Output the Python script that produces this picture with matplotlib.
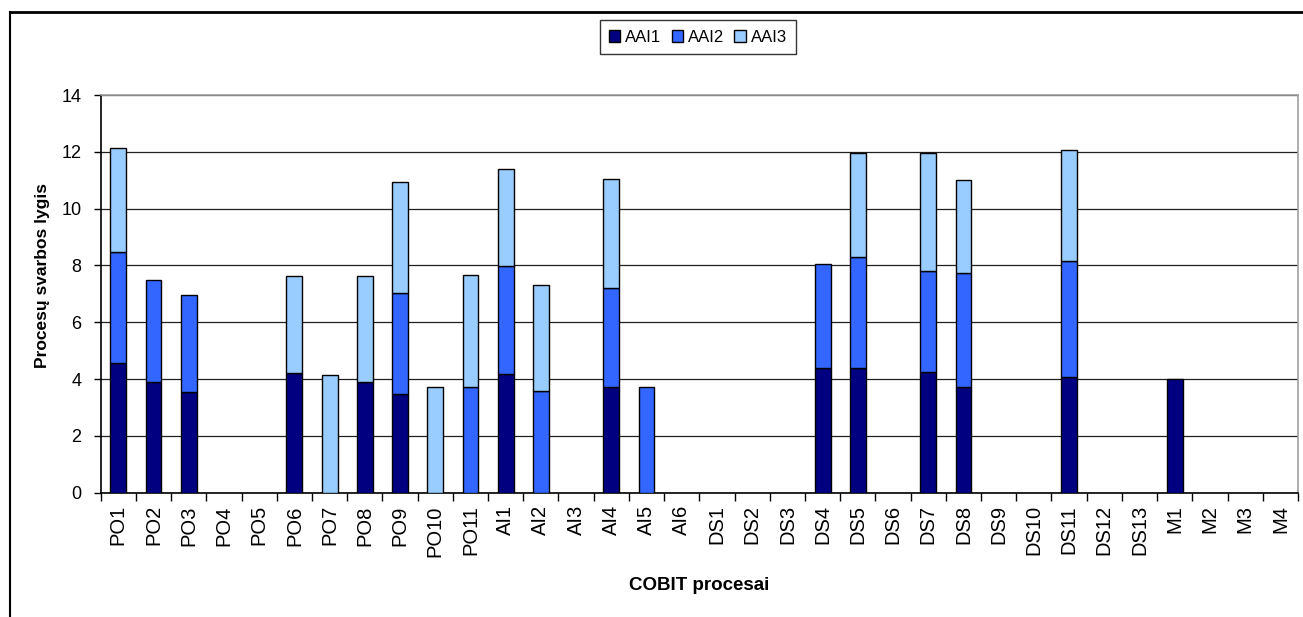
import numpy as np
import matplotlib
matplotlib.use("Agg")
import matplotlib.pyplot as plt
from matplotlib.lines import Line2D

plt.rcParams['font.family'] = ['Liberation Sans', 'DejaVu Sans']

# COBIT processes
processes = (["PO%d" % i for i in range(1, 12)] +
             ["AI%d" % i for i in range(1, 7)] +
             ["DS%d" % i for i in range(1, 14)] +
             ["M%d" % i for i in range(1, 5)])

# Importance levels per group
aai1 = [4.55, 3.91, 3.56, 0, 0, 4.20, 0, 3.91, 3.49, 0, 0,
        4.19, 0, 0, 3.73, 0, 0,
        0, 0, 0, 4.38, 4.38, 0, 4.26, 3.73, 0, 0, 4.08, 0, 0,
        4.01, 0, 0, 0]
aai2 = [3.91, 3.58, 3.40, 0, 0, 0, 0, 0, 3.53, 0, 3.73,
        3.78, 3.59, 0, 3.46, 3.73, 0,
        0, 0, 0, 3.66, 3.91, 0, 3.53, 4.00, 0, 0, 4.08, 0, 0,
        0, 0, 0, 0]
aai3 = [3.66, 0, 0, 0, 0, 3.42, 4.13, 3.71, 3.91, 3.73, 3.95,
        3.44, 3.73, 0, 3.85, 0, 0,
        0, 0, 0, 0, 3.66, 0, 4.16, 3.27, 0, 0, 3.90, 0, 0,
        0, 0, 0, 0]

series = [("AAI1", aai1, "#000080"),
          ("AAI2", aai2, "#3366FF"),
          ("AAI3", aai3, "#99CCFF")]

W, H = 1303, 617
fig = plt.figure(figsize=(W / 100, H / 100), dpi=100)
ax = fig.add_axes([100.7 / W, 1 - 492.7 / H, (1298 - 100.7) / W, (492.7 - 95) / H])

x = np.arange(len(processes))
bottom = np.zeros(len(processes))
handles = []
for name, vals, color in series:
    vals = np.asarray(vals, dtype=float)
    bars = ax.bar(x, vals, width=0.45, bottom=bottom, color=color,
                  edgecolor="black", linewidth=1.0, zorder=3, label=name)
    for p, v in zip(bars.patches, vals):
        if v == 0:
            p.set_visible(False)
    bottom += vals
    handles.append(bars)

ax.set_xlim(-0.5, len(processes) - 0.5)
ax.set_ylim(0, 14)
ax.set_yticks(np.arange(0, 15, 2))
ax.yaxis.grid(True, color="#202020", linewidth=0.9, zorder=0)
ax.set_axisbelow(True)

# category ticks sit between the bars
ax.set_xticks(x)
ax.set_xticklabels(processes, rotation=90, fontsize=14.5, va="top")
ax.set_xticks(np.arange(-0.5, len(processes), 1), minor=True)
ax.tick_params(axis="x", which="major", length=0, pad=9)
ax.tick_params(axis="x", which="minor", length=6, width=1, color="black",
               direction="out")
ax.tick_params(axis="y", length=5, width=1, direction="out", pad=9,
               labelsize=13)

for side in ("top", "right"):
    ax.spines[side].set_color("#a0a0a0")
    ax.spines[side].set_linewidth(1.2)
for side in ("left", "bottom"):
    ax.spines[side].set_color("black")
    ax.spines[side].set_linewidth(1.2)

fig.text(43 / W, 1 - 276 / H, "Procesų svarbos lygis", rotation=90,
         fontsize=12.5, fontweight="bold", ha="center", va="center")
fig.text(699 / W, 1 - 585 / H, "COBIT procesai", fontsize=13.5,
         fontweight="bold", ha="center", va="center")

leg = fig.legend(handles=handles, loc="center", bbox_to_anchor=(698 / W, 1 - 37 / H),
                 ncol=3, fontsize=12, frameon=True, fancybox=False,
                 edgecolor="black", handlelength=0.7, handleheight=0.75,
                 handletextpad=0.3, columnspacing=0.6, borderpad=0.55,
                 borderaxespad=0)
leg.get_frame().set_linewidth(1.0)

# outer chart frame
fig.add_artist(Line2D([10 / W, 1], [1 - 12 / H, 1 - 12 / H], color="black",
                      linewidth=2, transform=fig.transFigure))
fig.add_artist(Line2D([10 / W, 10 / W], [0, 1 - 12 / H], color="black",
                      linewidth=1.5, transform=fig.transFigure))

fig.savefig("out.png", dpi=100)
